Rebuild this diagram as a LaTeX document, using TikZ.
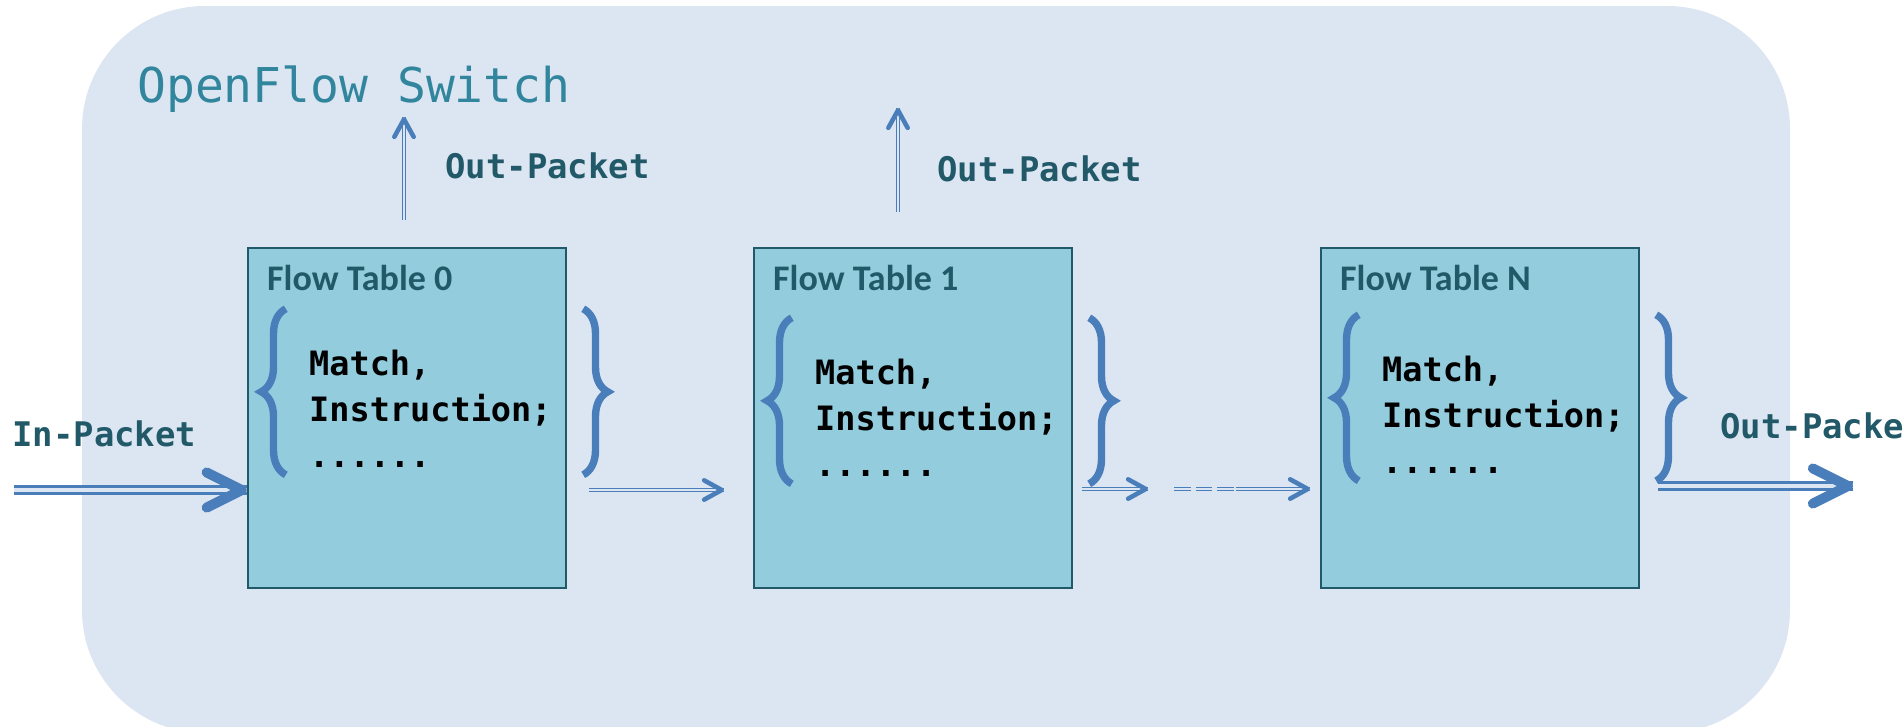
\documentclass[tikz,border=0pt]{standalone}
\usepackage{fontspec}
\setmainfont{Carlito}
\setmonofont{DejaVu Sans Mono}
\usetikzlibrary{arrows.meta,calc,decorations.pathreplacing,decorations.markings}
\definecolor{switchbg}{HTML}{DCE6F2}
\definecolor{tablefill}{HTML}{93CDDD}
\definecolor{tableedge}{HTML}{215968}
\definecolor{switchteal}{HTML}{31859C}
\definecolor{pktblue}{HTML}{4A7EBB}

\begin{document}
\begin{tikzpicture}[x=0.02cm, y=-0.02cm,
    tablebox/.style={draw=tableedge, fill=tablefill, line width=1.4pt, minimum width=6.36cm, minimum height=6.8cm, inner sep=0},
    tabletitle/.style={anchor=base west, inner sep=0, text=tableedge, font=\bfseries\fontsize{20.5}{24}\selectfont},
    entry/.style={anchor=base west, inner sep=0, align=left, font=\ttfamily\bfseries\fontsize{19.1}{26.2}\selectfont},
    pktlabel/.style={anchor=base west, inner sep=0, text=tableedge, font=\ttfamily\bfseries\fontsize{19.3}{23}\selectfont},
    bracket/.style={draw=pktblue, line width=4.2pt, decorate, decoration={brace, amplitude=14pt}},
    thinline/.style={draw=pktblue, double=switchbg, line width=0.75pt, double distance=0.9pt},
    thinarr/.style={thinline, postaction={decorate, decoration={markings, mark=at position 1 with
      {\pgfsetinnerlinewidth{0pt}\arrow[pktblue]{Straight Barb[round, length=10pt, width=11pt, line width=2.6pt 0 0]}}}}},
    bigarr/.style={draw=pktblue, double=switchbg, line width=1.9pt, double distance=2.4pt,
      postaction={decorate, decoration={markings, mark=at position 1 with
      {\pgfsetinnerlinewidth{0pt}\arrow[pktblue]{Straight Barb[round, length=20pt, width=20pt, line width=5.7pt 0 0]}}}}}
  ]
  \useasboundingbox (0,0) rectangle (1904,727);
  \clip (0,0) rectangle (1904,727);

  % switch outline
  \fill[switchbg, rounded corners=70pt] (82,6) rectangle (1790,733);
  \node[anchor=base west, inner sep=0, text=switchteal, font=\ttfamily\fontsize{27.3}{32}\selectfont] (switch) at (137,102) {OpenFlow Switch};

  % flow tables: name / centre x / vertical offset of the entries
  % (entry node sits on the baseline of its last line)
  \foreach \n/\cx/\dy in {0/407/0, 1/913/9, N/1480/6}{
    \node[tablebox] (t\n) at (\cx,418) {};
    \node[tabletitle] (h\n) at ($(t\n.north west)+(20,44)$) {Flow Table \n};
    \node[entry] (e\n) at ($(t\n.north west)+(62,221+\dy)$) {Match,\\Instruction;\\......};
    \draw[bracket] ($(t\n.north west)+(39,228+\dy)$) -- ($(t\n.north west)+(39,62+\dy)$);
    \draw[bracket] ($(t\n.north east)+(16,62+\dy)$) -- ($(t\n.north east)+(16,228+\dy)$);
  }

  % packet path
  \coordinate (src) at (14,490);
  \coordinate (m01) at (724,490);
  \coordinate (m1) at (1148,489);
  \coordinate (g0) at (1174,489);
  \coordinate (g1) at (1236,489);
  \coordinate (mN) at (1310,489);
  \coordinate (dst) at (1853,486);
  \draw[bigarr] (src) -- (t0.west |- src);
  \draw[thinarr, shorten <=12.5pt] (t0.east |- m01) -- (m01);
  \draw[thinarr, shorten <=5pt] (t1.east |- m1) -- (m1);
  \draw[thinline, dash pattern=on 9.5pt off 2.8pt] (g0) -- (g1);
  \draw[thinarr] (g1) -- (mN);
  \draw[bigarr, shorten <=10pt] (tN.east |- dst) -- (dst);

  % packets leaving upwards
  \coordinate (up0) at (404,117);
  \coordinate (up1) at (898,108);
  \draw[thinarr, shorten <=15pt] (t0.north -| up0) -- (up0);
  \draw[thinarr, shorten <=20pt] (t1.north -| up1) -- (up1);

  % labels
  \node[pktlabel] (out0) at (445,178) {Out-Packet};
  \node[pktlabel] (out1) at (937,181) {Out-Packet};
  \node[pktlabel] (inpkt) at (12,446) {In-Packet};
  \node[pktlabel] (outN) at (1720,438) {Out-Packet};
\end{tikzpicture}
\end{document}
